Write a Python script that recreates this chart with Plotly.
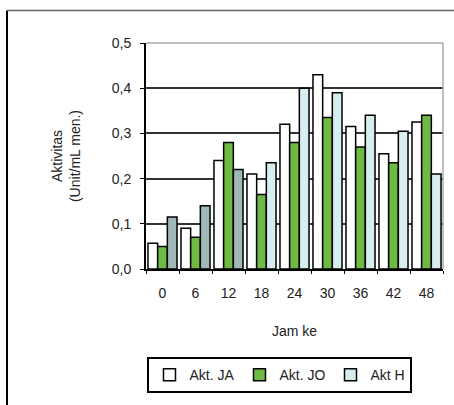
import plotly.graph_objects as go

categories = ["0", "6", "12", "18", "24", "30", "36", "42", "48"]
akt_ja = [0.057, 0.090, 0.240, 0.210, 0.320, 0.430, 0.315, 0.255, 0.325]
akt_jo = [0.050, 0.070, 0.280, 0.165, 0.280, 0.335, 0.270, 0.235, 0.340]
akt_h = [0.115, 0.140, 0.220, 0.235, 0.400, 0.390, 0.340, 0.305, 0.210]
h_colors = ["#9fb8b8", "#9fb8b8", "#9fb8b8", "#d8edf0", "#d8edf0", "#d8edf0", "#d8edf0", "#d8edf0", "#d8edf0"]

y_ticks = [0, 0.1, 0.2, 0.3, 0.4, 0.5]

FONT = "Liberation Sans, Arial, sans-serif"
OUTLINE = dict(color="black", width=1.5)

fig = go.Figure()
fig.add_trace(go.Bar(x=categories, y=akt_ja, name="Akt. JA", offsetgroup="a",
                     marker=dict(color="white", line=OUTLINE)))
fig.add_trace(go.Bar(x=categories, y=akt_jo, name="Akt. JO", offsetgroup="b",
                     marker=dict(color="#6fba45", line=OUTLINE)))
fig.add_trace(go.Bar(x=categories, y=akt_h, name="Akt H", showlegend=False, offsetgroup="c",
                     marker=dict(color=h_colors, line=OUTLINE)))
# legend entry for Akt H (its swatch colour)
fig.add_trace(go.Bar(x=[categories[0]], y=[None], name="Akt H", showlegend=True,
                     marker=dict(color="#d8edf0", line=OUTLINE), offsetgroup="c",
                     hoverinfo="skip"))

fig.update_layout(
    width=454, height=405,
    margin=dict(l=146, r=11, t=43, b=136),
    paper_bgcolor="white", plot_bgcolor="white",
    separators=",.",
    barmode="group", bargap=0.12, bargroupgap=0,
    font=dict(family=FONT, color="#222", size=13),
    showlegend=True,
    legend=dict(orientation="h", x=0.005, y=-0.39, xanchor="left", yanchor="top",
                bordercolor="black", borderwidth=2, bgcolor="white",
                font=dict(size=14, family=FONT), itemwidth=30,
                tracegroupgap=0),
    xaxis=dict(type="category", showline=True, linecolor="black", linewidth=2,
               ticks="outside", tickson="boundaries", ticklen=3, tickcolor="black",
               tickfont=dict(size=14), mirror=False, ticklabelstandoff=10,
               title=dict(text="Jam ke", font=dict(size=14), standoff=26)),
    yaxis=dict(range=[0, 0.5], tickvals=y_ticks, tickformat=".1f",
               showline=True, linecolor="black", linewidth=2,
               ticks="outside", ticklen=4, tickcolor="black",
               showgrid=True, gridcolor="#333", gridwidth=1.5,
               tickfont=dict(size=14), ticklabelstandoff=6,
               title=dict(text="Aktivitas<br>(Unit/mL men.)", font=dict(size=14), standoff=28)),
    shapes=[
        dict(type="line", xref="paper", yref="paper", x0=0, x1=1, y0=1, y1=1,
             line=dict(color="#aaa", width=1.5)),
        dict(type="line", xref="paper", yref="paper", x0=1, x1=1, y0=0, y1=1,
             line=dict(color="#aaa", width=1.5)),
        dict(type="line", xref="paper", yref="paper", x0=-0.468, x1=-0.468, y0=-0.8, y1=1.144,
             line=dict(color="black", width=2)),
        dict(type="line", xref="paper", yref="paper", x0=-0.468, x1=1.1, y0=1.144, y1=1.144,
             line=dict(color="#666", width=1.5)),
    ],
)

fig.write_html("out.html")
